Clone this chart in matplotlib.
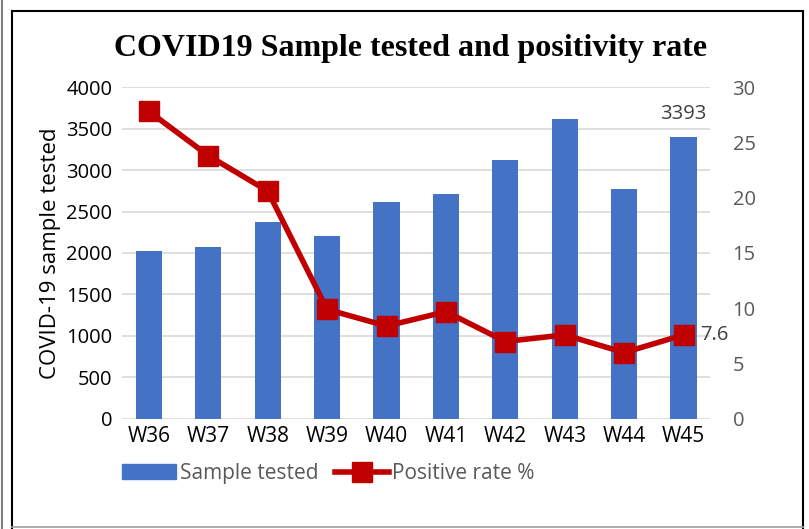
import matplotlib.pyplot as plt
from matplotlib.lines import Line2D
from matplotlib.patches import Rectangle

weeks = ['W36', 'W37', 'W38', 'W39', 'W40', 'W41', 'W42', 'W43', 'W44', 'W45']
samples = [2020, 2070, 2370, 2200, 2620, 2710, 3120, 3620, 2770, 3393]
positive_rate = [27.8, 23.8, 20.6, 9.9, 8.4, 9.7, 7.0, 7.6, 6.0, 7.6]

plt.rcParams['font.family'] = ['Open Sans', 'DejaVu Sans']

fig = plt.figure(figsize=(8.09, 5.29), dpi=100)
ax = fig.add_axes([0.151, 0.208, 0.727, 0.6275])

x = range(len(weeks))
ax.bar(x, samples, width=0.44, color='#4472C4', zorder=2, label='Sample tested')
ax.set_ylim(0, 4000)
ax.set_yticks(range(0, 4001, 500))
ax.set_xlim(-0.45, len(weeks) - 0.55)
ax.set_xticks(list(x))
ax.set_xticklabels(weeks, fontsize=15, color='black')
ax.tick_params(axis='y', labelsize=14.5, colors='black', length=0, pad=7)
ax.tick_params(axis='x', length=0, pad=5)
ax.grid(axis='y', color='#D9D9D9', linewidth=1.2, zorder=0)
for s in ax.spines.values():
    s.set_visible(False)
ax.set_ylabel('COVID-19 sample tested', fontsize=16, labelpad=4)
ax.annotate(str(samples[-1]), (x[-1], samples[-1]), xytext=(0, 10), textcoords='offset points',
            ha='center', va='bottom', fontsize=14.5, color='#404040')

ax2 = ax.twinx()
ax2.plot(x, positive_rate, color='#C00000', linewidth=4, marker='s', markersize=14,
         zorder=3, label='Positive rate %')
ax2.set_ylim(0, 30)
ax2.set_yticks(range(0, 31, 5))
ax2.tick_params(axis='y', labelsize=14.5, colors='#595959', length=0, pad=16)
for s in ax2.spines.values():
    s.set_visible(False)
ax2.annotate(str(positive_rate[-1]), (x[-1], positive_rate[-1]), xytext=(12, 0),
             textcoords='offset points', ha='left', va='center', fontsize=14.5, color='#404040')

fig.text(0.507, 0.908, 'COVID19 Sample tested and positivity rate', ha='center', va='center',
         fontsize=23, fontweight='bold', family='Liberation Serif')

handles = [Rectangle((0, 0), 1, 1, color='#4472C4'),
           Line2D([], [], color='#C00000', linewidth=4, marker='s', markersize=14)]
fig.legend(handles, ['Sample tested', 'Positive rate %'], loc='center left',
           bbox_to_anchor=(0.128, 0.105), ncol=2, frameon=False, fontsize=15,
           labelcolor='#595959', handlelength=2.6, columnspacing=0.8, handletextpad=0.15)

# frame lines around the chart
fig.add_artist(Line2D([0.003, 0.003], [0, 1], color='#7f7f7f', linewidth=1.5))
fig.add_artist(Line2D([0.015, 0.015], [0, 0.98], color='black', linewidth=1.5))
fig.add_artist(Line2D([0.015, 0.993], [0.98, 0.98], color='black', linewidth=1.5))
fig.add_artist(Line2D([0.993, 0.993], [0, 0.98], color='black', linewidth=1.5))
fig.add_artist(Line2D([0.015, 0.993], [0.004, 0.004], color='#a0a0a0', linewidth=1.2))

fig.savefig('out.png', dpi=100)
